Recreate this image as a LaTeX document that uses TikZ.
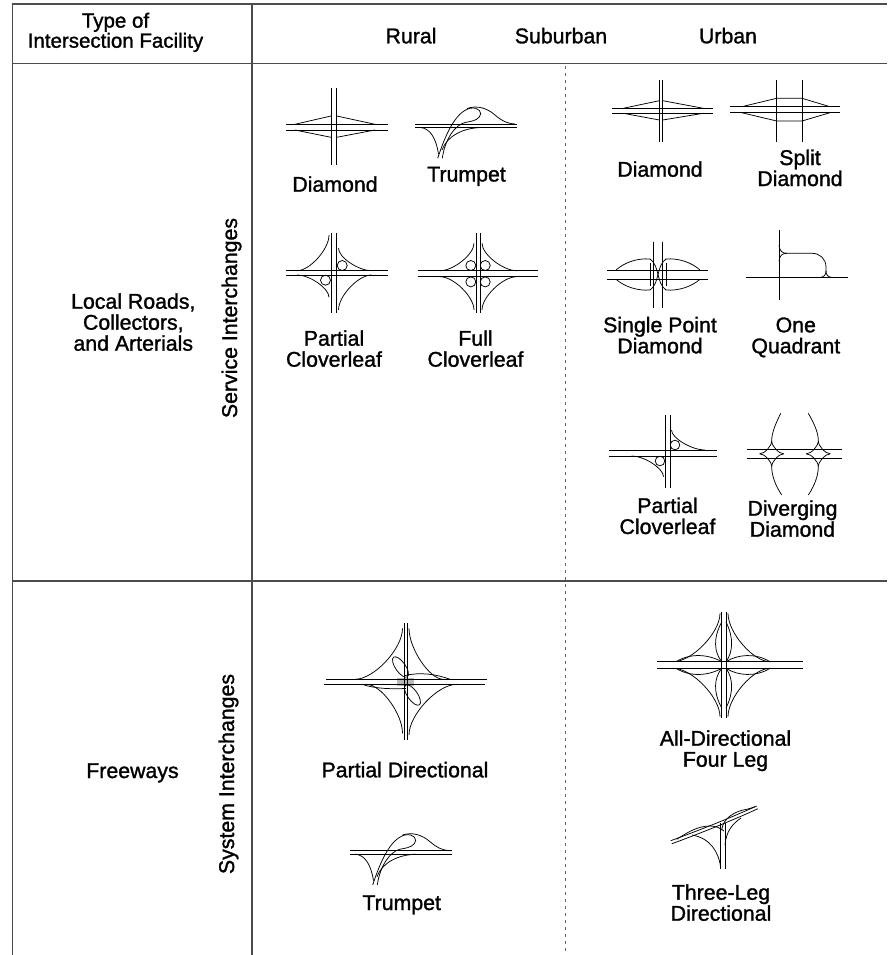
\documentclass[tikz,border=0pt]{standalone}
\usepackage{fontspec}
\setmainfont{Liberation Sans}[FakeBold=1.3]

% concave ramp between two roads meeting at a corner
\newcommand{\ramp}[4]{\draw (#1,#2) ++(0,#4) .. controls +(0,{-0.4*(#4)}) and +({-0.4*(#3)},0) .. ++(#3,{-(#4)});}

\tikzset{trumpet/.pic={
	\draw (0,0) -- (102,0) (0,3.5) -- (102,3.5);
	\draw (22.7,34.3) .. controls (30,12) and (40,-12) .. (55,-15.7) .. controls (64,-17.5) and (68,-11) .. (64.3,-7) .. controls (61,-3) and (55,-2.5) .. (50,-1.5) .. controls (40,1) and (30,15) .. (27.3,34.3);
	\draw (52,-15.5) .. controls (62,-19) and (72,-16) .. (80,-9) .. controls (87,-3) and (92,-0.5) .. (100,0);
	\draw (5,3.5) .. controls (15,4) and (21,14) .. (23.5,30);
	\draw (27,26) .. controls (32,12) and (48,4) .. (66,3.5);
}}

\begin{document}
\begin{tikzpicture}[x=1pt, y=-1pt, line width=0.75pt]
	\tikzstyle{every node} = [inner sep=0pt, align=center, anchor=base, font=\fontsize{21.3}{21}\selectfont]
	\tikzstyle{tableline} = [line width=1.2pt, black!70]
	\tikzstyle{zoneline} = [line width=0.9pt, black!60, dash pattern=on 3pt off 4pt]
	\useasboundingbox (0,0) rectangle (887,955);

	% table
	\draw[tableline] (887,4) -- (12.5,4) -- (12.5,955);
	\draw[tableline] (12.5,63.5) -- (887,63.5);
	\draw[tableline] (12.5,581) -- (887,581);
	\draw[tableline] (252,4) -- (252,955);
	\draw[zoneline] (565,66) -- (565,955);

	\node[font=\fontsize{20.5}{18.4}\selectfont] (facility) at (115.5,47.7) {Type of\\Intersection Facility};
	\node (rural) at (411,43.3) {Rural};
	\node (suburban) at (561,43.3) {Suburban};
	\node (urban) at (728,43.3) {Urban};
	\node (local) at (133.3,350.7) {Local Roads,\\Collectors,\\and Arterials};
	\node (freeways) at (132.5,778) {Freeways};
	\node[rotate=90] (service) at (237,318) {Service Interchanges};
	\node[rotate=90] (system) at (234,774) {System Interchanges};

	% rural diamond
	\draw (331,88) -- (331,165) (336.7,88) -- (336.7,165);
	\draw (286,124.3) -- (387.7,124.3) (286,130) -- (387.7,130);
	\draw (295,124.3) -- (331,116) (336.7,116) -- (375,124.3);
	\draw (295,130) -- (331,137.3) (336.7,137.3) -- (375,130);
	\node (dmdR) at (335,191.7) {Diamond};

	% rural trumpet
	\pic at (415,124) {trumpet};
	\node (trmpR) at (466.5,181.5) {Trumpet};

	% rural partial cloverleaf
	\draw (331,233) -- (331,313) (336.7,233) -- (336.7,313);
	\draw (286,270.7) -- (388,270.7) (286,275) -- (388,275);
	\ramp{329}{270.7}{-32}{-35.7}
	\ramp{338.5}{270.7}{33}{-22.4}
	\ramp{329}{275}{-32}{22.3}
	\ramp{338.5}{275}{33}{35}
	\draw (342.2,265.5) circle (5);
	\draw (325.5,280.2) circle (5);
	\node (pclR) at (334,366.7) {Partial\\Cloverleaf};

	% full cloverleaf
	\draw (476,233) -- (476,313) (480,233) -- (480,313);
	\draw (417.7,270.7) -- (538,270.7) (417.7,276.7) -- (538,276.7);
	\ramp{474}{270.7}{-34}{-27.4}
	\ramp{482}{270.7}{34.7}{-27.4}
	\ramp{474}{276.7}{-34}{33.3}
	\ramp{482}{276.7}{34.7}{33.3}
	\foreach \cx in {470.8,485.2}
		\foreach \cy in {265.5,281.9}
			\draw (\cx,\cy) circle (5);
	\node (fclR) at (475.5,366.7) {Full\\Cloverleaf};

	% urban diamond
	\draw (659.3,80) -- (659.3,141.7) (662.7,80) -- (662.7,141.7);
	\draw (611.7,108.3) -- (712.7,108.3) (611.7,113.3) -- (712.7,113.3);
	\draw (623.3,108.3) -- (659.3,100.7) (662.7,100.7) -- (703.3,108.3);
	\draw (623.3,113.3) -- (659.3,120) (662.7,120) -- (703.3,113.3);
	\node (dmdU) at (660,176.7) {Diamond};

	% split diamond
	\draw (776.7,80) -- (776.7,141.7) (802,80) -- (802,141.7);
	\draw (730,106.7) -- (840,106.7) (730,112.7) -- (840,112.7);
	\draw (741.7,106.7) -- (776.7,98.3) -- (802,98.3) -- (830,106.7);
	\draw (741.7,112.7) -- (776.7,121) -- (802,121) -- (830,112.7);
	\node (sdmU) at (800,186) {Split\\Diamond};

	% single point diamond
	\draw (653.3,241.7) -- (653.3,308.3) (662,241.7) -- (662,308.3);
	\draw (607.3,270) -- (708.3,270) (607.3,279.3) -- (708.3,279.3);
	\draw (616,270) .. controls (625,262) and (638,258) .. (650,259);
	\draw (616,279.3) .. controls (625,287) and (638,291) .. (650,290);
	\draw (700,270) .. controls (691,262) and (678,258) .. (666,259);
	\draw (700,279.3) .. controls (691,287) and (678,291) .. (666,290);
	\draw (650,259) .. controls (660,266) and (656,283) .. (666,290);
	\draw (666,259) .. controls (656,266) and (660,283) .. (650,290);
	\draw (650,262.7) -- (650,286) (666,262.7) -- (666,286);
	\node (spdU) at (660,353.3) {Single Point\\Diamond};

	% one quadrant
	\draw (779,230) -- (779,300);
	\draw (746,277.7) -- (848.3,277.7);
	\draw (779,245) .. controls (779.5,251) and (782,253.3) .. (787,253.3) -- (812,253.3) .. controls (820,253.3) and (826,259) .. (826,267) -- (826,271);
	\draw (779,261.5) .. controls (779.5,255.5) and (782,253.3) .. (787,253.3);
	\draw (819,277.7) .. controls (824,277.2) and (826,275) .. (826,271);
	\draw (833,277.7) .. controls (828,277.2) and (826,275) .. (826,271);
	\node (oqdU) at (795.8,353.3) {One\\Quadrant};

	% urban partial cloverleaf
	\draw (665,415) -- (665,488.3) (670,415) -- (670,488.3);
	\draw (609.3,450) -- (716.7,450) (609.3,456) -- (716.7,456);
	\ramp{671.5}{450}{33.5}{-20}
	\ramp{663.5}{456}{-32}{20.7}
	\draw (675,445) circle (4.8);
	\draw (660,461) circle (4.8);
	\node (pclU) at (667.5,534) {Partial\\Cloverleaf};

	% diverging diamond
	\draw (746.7,449.3) -- (841.7,449.3) (746.7,458.3) -- (841.7,458.3);
	\foreach \nx in {771.7,818.3} {
		\ramp{\nx}{453.8}{-12}{-12.8}
		\ramp{\nx}{453.8}{12}{-12.8}
		\ramp{\nx}{453.8}{-12}{12.8}
		\ramp{\nx}{453.8}{12}{12.8}
	}
	\draw (780.7,413.3) .. controls (775,425) and (771.7,433) .. (771.7,441);
	\draw (771.7,466.6) .. controls (771.7,475) and (775,485) .. (781.7,495);
	\draw (808.3,413.3) .. controls (815,425) and (818.3,433) .. (818.3,441);
	\draw (818.3,466.6) .. controls (818.3,475) and (815,485) .. (808.3,495);
	\node (ddiU) at (792.5,536.7) {Diverging\\Diamond};

	% partial directional
	\fill[gray!55] (397,677.5) rectangle (414,686);
	\draw (404.3,623.3) -- (404.3,740) (407.3,623.3) -- (407.3,740);
	\draw (326,679.3) -- (487.3,679.3) (324,684.3) -- (485,684.3);
	\ramp{402.5}{679.3}{-47.5}{-51}
	\ramp{409}{679.3}{34.3}{-51}
	\ramp{402.5}{684.3}{-36}{49}
	\ramp{409}{684.3}{47.7}{50.7}
	\draw[rotate around={-55:(400.5,667)}] (400.5,667) ellipse (12 and 5);
	\draw[rotate around={-55:(412.5,695)}] (412.5,695) ellipse (12 and 5);
	\draw (405,675.5) .. controls (420,672) and (436,674) .. (450,679.3);
	\draw (362,684.3) .. controls (376,689) and (392,689) .. (406,688.5);
	\node (pdirS) at (405,777.3) {Partial Directional};

	% all-directional four leg
	\draw (721.7,611.7) -- (721.7,718.3) (726,611.7) -- (726,718.3);
	\draw (657.3,661.7) -- (802.7,661.7) (657.3,668.3) -- (802.7,668.3);
	\ramp{720}{661.7}{-46.7}{-48.4}
	\ramp{728}{661.7}{42}{-48.4}
	\ramp{720}{668.3}{-46.7}{48.4}
	\ramp{728}{668.3}{42}{48.4}
	\draw (721.7,622) .. controls (713,638) and (714,652) .. (721.7,661.7);
	\draw (726,622) .. controls (734,638) and (733,652) .. (726,661.7);
	\draw (721.7,708) .. controls (713,692) and (714,678) .. (721.7,668.3);
	\draw (726,708) .. controls (734,692) and (733,678) .. (726,668.3);
	\draw (676,661.7) .. controls (690,653) and (708,654) .. (721.7,661.7);
	\draw (770,661.7) .. controls (756,653) and (738,654) .. (726,661.7);
	\draw (676,668.3) .. controls (690,677) and (708,676) .. (721.7,668.3);
	\draw (770,668.3) .. controls (756,677) and (738,676) .. (726,668.3);
	\node (adirS) at (725.5,766.7) {All-Directional\\Four Leg};

	% system trumpet
	\pic at (350,850.7) {trumpet};
	\node (trmpS) at (401.7,910) {Trumpet};

	% three-leg directional
	\draw (670.7,840.7) .. controls (700,830) and (730,818) .. (756.7,806);
	\draw (671.7,843.8) .. controls (701,833) and (731,821) .. (757.7,808.8);
	\draw (720.7,823.3) -- (720.7,869.3) (725,823.3) -- (725,869.3);
	\draw (676.7,839.3) .. controls (688,832) and (698,826) .. (710,826) .. controls (716,826) and (720,828) .. (724,831);
	\draw (721.7,830) .. controls (723,818) and (735,811) .. (746.7,809.3) .. controls (750,808.5) and (753,807.5) .. (755,806.7);
	\draw (692,835) .. controls (710,838) and (719,852) .. (720.7,868);
	\draw (741,818) .. controls (732,824) and (726,832) .. (725,845);
	\node (tldS) at (721,920.7) {Three-Leg\\Directional};
\end{tikzpicture}
\end{document}
